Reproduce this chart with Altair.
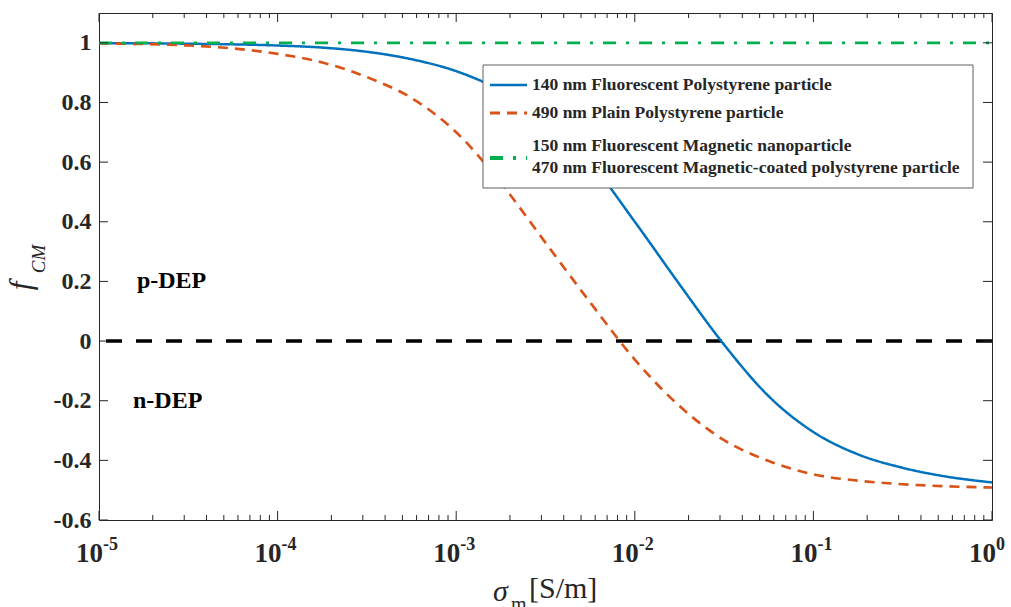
import altair as alt
import pandas as pd

# ---------------- data ----------------
series_names = [
    "140 nm Fluorescent Polystyrene particle",
    "490 nm Plain Polystyrene particle",
    "150 nm Fluorescent Magnetic nanoparticle|470 nm Fluorescent Magnetic-coated polystyrene particle",
]
series_colors = ["#0072BD", "#D95319", "#00B04F"]
series_dash = [[1, 0], [10, 7], [13, 10, 3, 10]]
series_width = [2.5, 2.8, 3.8]

blue_sigma = [1e-5, 3.16e-5, 1e-4, 1.78e-4, 3.16e-4, 5.62e-4, 1e-3, 1.78e-3, 3.16e-3,
              5.62e-3, 1e-2, 1.78e-2, 3.16e-2, 5.62e-2, 0.1, 0.178, 0.316, 0.562, 1.0]
blue_f = [0.999, 0.997, 0.991, 0.984, 0.970, 0.945, 0.905, 0.840, 0.745,
          0.600, 0.400, 0.190, -0.012, -0.185, -0.305, -0.380, -0.425, -0.455, -0.474]

orange_sigma = [1e-5, 1.78e-5, 3.16e-5, 5.62e-5, 1e-4, 1.78e-4, 3.16e-4, 5.62e-4, 1e-3,
                1.78e-3, 3.16e-3, 5.62e-3, 1e-2, 1.78e-2, 3.16e-2, 5.62e-2, 0.1, 0.178,
                0.316, 0.562, 1.0]
orange_f = [0.998, 0.996, 0.991, 0.981, 0.963, 0.934, 0.885, 0.815, 0.700,
            0.530, 0.330, 0.130, -0.062, -0.218, -0.332, -0.402, -0.447, -0.468,
            -0.480, -0.487, -0.491]

green_sigma = [1e-5, 1e-4, 1e-3, 1e-2, 1e-1, 1.0]
green_f = [1.0, 1.0, 1.0, 1.0, 1.0, 1.0]

zero_line = [0.0]

x_major = [1e-5, 1e-4, 1e-3, 1e-2, 1e-1, 1.0]
x_exponents = ["-5", "-4", "-3", "-2", "-1", "0"]
x_minor = [k * d for d in [1e-5, 1e-4, 1e-3, 1e-2, 1e-1] for k in range(2, 10)]
y_ticks = [-0.6, -0.4, -0.2, 0, 0.2, 0.4, 0.6, 0.8, 1]

annot_text = ["p-DEP", "n-DEP"]
annot_sigma = [1.63e-5, 1.55e-5]
annot_f = [0.2, -0.2]

# ---------------- layout ----------------
W, H = 893, 507
FONT = "Liberation Serif"
AX = "#262626"

rows = []
for s, f in zip(blue_sigma, blue_f):
    rows.append({"sigma": s, "f": f, "series": series_names[0]})
for s, f in zip(orange_sigma, orange_f):
    rows.append({"sigma": s, "f": f, "series": series_names[1]})
for s, f in zip(green_sigma, green_f):
    rows.append({"sigma": s, "f": f, "series": series_names[2]})
df = pd.DataFrame(rows)

xscale = alt.Scale(type="log", domain=[1e-5, 1])
yscale = alt.Scale(domain=[-0.6, 1.1], nice=False, zero=False)

lines = alt.Chart(df).mark_line(clip=True, interpolate="monotone").encode(
    x=alt.X("sigma:Q", scale=xscale, axis=None),
    y=alt.Y("f:Q", scale=yscale, axis=alt.Axis(
        values=y_ticks, labelExpr="'' + datum.value", ticks=False, tickSize=0,
        domain=False, grid=False, labelFont=FONT, labelFontWeight="bold",
        labelFontSize=24, labelColor=AX, labelPadding=8, title=None)),
    color=alt.Color("series:N", scale=alt.Scale(domain=series_names, range=series_colors), legend=None),
    strokeDash=alt.StrokeDash("series:N", scale=alt.Scale(domain=series_names, range=series_dash), legend=None),
    strokeWidth=alt.StrokeWidth("series:N", scale=alt.Scale(domain=series_names, range=series_width), legend=None),
    order=alt.Order("sigma:Q"),
)

zero = alt.Chart(pd.DataFrame({"f": zero_line})).mark_rule(
    color="black", strokeDash=[16, 14], strokeWidth=3.5).encode(y=alt.Y("f:Q", scale=yscale))

dmaj = pd.DataFrame({"sigma": x_major, "e": x_exponents, "ten": ["10"] * len(x_major)})
dmin = pd.DataFrame({"sigma": x_minor})
dy = pd.DataFrame({"f": y_ticks})

tick_style = dict(color=AX, strokeWidth=1)
xt_major_b = alt.Chart(dmaj).mark_rule(**tick_style).encode(
    x=alt.X("sigma:Q", scale=xscale), y=alt.value(H), y2=alt.value(H - 9))
xt_major_t = alt.Chart(dmaj).mark_rule(**tick_style).encode(
    x=alt.X("sigma:Q", scale=xscale), y=alt.value(0), y2=alt.value(9))
xt_minor_b = alt.Chart(dmin).mark_rule(**tick_style).encode(
    x=alt.X("sigma:Q", scale=xscale), y=alt.value(H), y2=alt.value(H - 5))
xt_minor_t = alt.Chart(dmin).mark_rule(**tick_style).encode(
    x=alt.X("sigma:Q", scale=xscale), y=alt.value(0), y2=alt.value(5))
yt_l = alt.Chart(dy).mark_rule(**tick_style).encode(
    y=alt.Y("f:Q", scale=yscale), x=alt.value(0), x2=alt.value(9))
yt_r = alt.Chart(dy).mark_rule(**tick_style).encode(
    y=alt.Y("f:Q", scale=yscale), x=alt.value(W - 9), x2=alt.value(W))

xl_ten = alt.Chart(dmaj).mark_text(
    font=FONT, fontWeight="bold", fontSize=27, color=AX, align="right",
    baseline="alphabetic", dx=4).encode(
    x=alt.X("sigma:Q", scale=xscale), y=alt.value(549), text="ten:N")
xl_exp = alt.Chart(dmaj).mark_text(
    font=FONT, fontWeight="bold", fontSize=18, color=AX, align="left",
    baseline="alphabetic", dx=4).encode(
    x=alt.X("sigma:Q", scale=xscale), y=alt.value(537), text="e:N")

annot = alt.Chart(pd.DataFrame({"sigma": annot_sigma, "f": annot_f, "t": annot_text})).mark_text(
    font=FONT, fontWeight="bold", fontSize=24, color="black", align="left", baseline="middle").encode(
    x=alt.X("sigma:Q", scale=xscale), y=alt.Y("f:Q", scale=yscale), text="t:N")


def label(txt, x, y, size, style="normal", weight="normal", angle=0, align="left", color=AX):
    kw = dict(font=FONT, fontSize=size, fontStyle=style, fontWeight=weight, color=color,
              align=align, baseline="alphabetic")
    if angle:
        kw["angle"] = angle
    return alt.Chart(pd.DataFrame({"t": [txt]})).mark_text(**kw).encode(
        text="t:N", x=alt.value(x), y=alt.value(y))


ytitle_f = label("f", -68, 273, 31, style="italic", angle=270, align="center")
ytitle_cm = label("CM", -54, 246, 19, style="italic", angle=270, align="center")
xtitle_s = label("σ", 394, 588, 30, style="italic")
xtitle_m = label("m", 412, 598, 20)
xtitle_u = label("[S/m]", 430, 585, 30)

# ---------------- legend (drawn inside the plot, top right) ----------------
LX0, LX1, LY0, LY1 = 384, 874, 52, 175
legend_box = alt.Chart(pd.DataFrame({"t": [0]})).mark_rect(
    fill="white", stroke="#606060", strokeWidth=1).encode(
    x=alt.value(LX0), x2=alt.value(LX1), y=alt.value(LY0), y2=alt.value(LY1))

legend_layers = [legend_box]
sym_y = [72, 100, 145]
lab_y = [[72], [100], [133, 155]]
for name, col, dash, sw, sy, ly in zip(series_names, series_colors, series_dash,
                                       series_width, sym_y, lab_y):
    legend_layers.append(
        alt.Chart(pd.DataFrame({"t": [name]})).mark_rule(
            color=col, strokeDash=dash, strokeWidth=sw).encode(
            x=alt.value(391), x2=alt.value(428), y=alt.value(sy)))
    for part, yy in zip(name.split("|"), ly):
        legend_layers.append(
            alt.Chart(pd.DataFrame({"t": [part]})).mark_text(
                font=FONT, fontSize=17.5, fontWeight="bold", color=AX,
                align="left", baseline="middle").encode(
                text="t:N", x=alt.value(433), y=alt.value(yy)))

chart = alt.layer(
    zero, lines, xt_major_b, xt_major_t, xt_minor_b, xt_minor_t, yt_l, yt_r,
    xl_ten, xl_exp, annot, ytitle_f, ytitle_cm, xtitle_s, xtitle_m, xtitle_u,
    *legend_layers,
).properties(
    width=W, height=H,
    autosize=alt.AutoSizeParams(type="none"),
    padding={"left": 99, "top": 13, "right": 19, "bottom": 87},
    background="white",
).configure_view(stroke=AX, strokeWidth=1)

chart.save("out.html", embed_options={"renderer": "svg", "actions": False})
